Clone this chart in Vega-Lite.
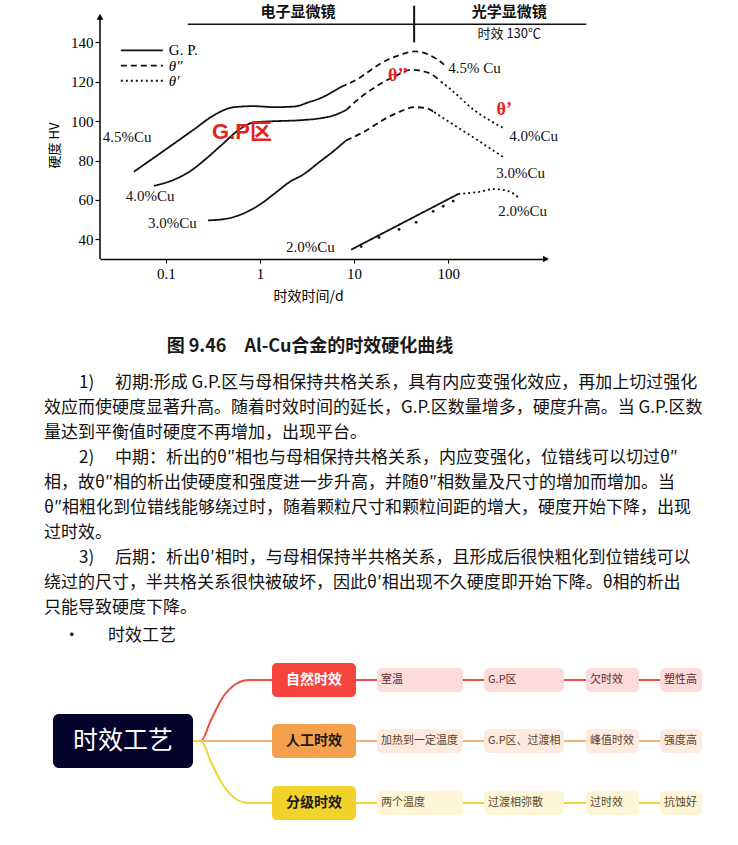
{
  "$schema": "https://vega.github.io/schema/vega-lite/v6.json",
  "background": "white",
  "padding": {"left": 43, "top": 1, "right": 0, "bottom": 0},
  "bounds": "flush",
  "spacing": 5,
  "config": {"view": {"stroke": null}, "font": "Noto Sans CJK SC", "axis": {"grid": false}},
  "vconcat": [
    {
      "width": 446,
      "height": 258,
      "title": {"text": "图 9.46\u3000Al-Cu合金的时效硬化曲线", "orient": "bottom", "anchor": "middle", "frame": "group", "offset": 35, "fontSize": 18, "fontWeight": "bold", "font": "Noto Sans CJK SC", "color": "#1a1a1a", "dx": -13},
      "layer": [
        {
          "data": {"values": [
            {"alloy": "4.5", "phase": "G.P.", "t": 0.0457, "hv": 74.3},
            {"alloy": "4.5", "phase": "G.P.", "t": 0.0745, "hv": 81.4},
            {"alloy": "4.5", "phase": "G.P.", "t": 0.122, "hv": 88.6},
            {"alloy": "4.5", "phase": "G.P.", "t": 0.199, "hv": 95.8},
            {"alloy": "4.5", "phase": "G.P.", "t": 0.324, "hv": 103.0},
            {"alloy": "4.5", "phase": "G.P.", "t": 0.529, "hv": 107.1},
            {"alloy": "4.5", "phase": "G.P.", "t": 0.863, "hv": 107.6},
            {"alloy": "4.5", "phase": "G.P.", "t": 1.41, "hv": 107.1},
            {"alloy": "4.5", "phase": "G.P.", "t": 2.3, "hv": 107.4},
            {"alloy": "4.5", "phase": "G.P.", "t": 3.3, "hv": 109.6},
            {"alloy": "4.5", "phase": "G.P.", "t": 4.46, "hv": 111.8},
            {"alloy": "4.5", "phase": "G.P.", "t": 6.13, "hv": 115.3},
            {"alloy": "4.5", "phase": "G.P.", "t": 7.27, "hv": 117.4},
            {"alloy": "4.5", "phase": "θ″", "t": 7.27, "hv": 117.4},
            {"alloy": "4.5", "phase": "θ″", "t": 11.9, "hv": 122.5},
            {"alloy": "4.5", "phase": "θ″", "t": 14.1, "hv": 125.0},
            {"alloy": "4.5", "phase": "θ″", "t": 23.0, "hv": 131.3},
            {"alloy": "4.5", "phase": "θ″", "t": 31.6, "hv": 133.8},
            {"alloy": "4.5", "phase": "θ″", "t": 43.5, "hv": 135.4},
            {"alloy": "4.5", "phase": "θ″", "t": 58.3, "hv": 134.3},
            {"alloy": "4.5", "phase": "θ″", "t": 71, "hv": 132.3},
            {"alloy": "4.5", "phase": "θ″", "t": 90.6, "hv": 128.7},
            {"alloy": "4.0", "phase": "G.P.", "t": 0.0745, "hv": 67.1},
            {"alloy": "4.0", "phase": "G.P.", "t": 0.128, "hv": 70.7},
            {"alloy": "4.0", "phase": "G.P.", "t": 0.184, "hv": 74.8},
            {"alloy": "4.0", "phase": "G.P.", "t": 0.267, "hv": 80.9},
            {"alloy": "4.0", "phase": "G.P.", "t": 0.385, "hv": 87.6},
            {"alloy": "4.0", "phase": "G.P.", "t": 0.628, "hv": 96.3},
            {"alloy": "4.0", "phase": "G.P.", "t": 0.863, "hv": 99.4},
            {"alloy": "4.0", "phase": "G.P.", "t": 1.31, "hv": 99.9},
            {"alloy": "4.0", "phase": "G.P.", "t": 2.73, "hv": 100.5},
            {"alloy": "4.0", "phase": "G.P.", "t": 4.46, "hv": 101.5},
            {"alloy": "4.0", "phase": "G.P.", "t": 6.13, "hv": 103.0},
            {"alloy": "4.0", "phase": "G.P.", "t": 8.22, "hv": 105.6},
            {"alloy": "4.0", "phase": "θ″", "t": 8.22, "hv": 105.6},
            {"alloy": "4.0", "phase": "θ″", "t": 11.9, "hv": 112.3},
            {"alloy": "4.0", "phase": "θ″", "t": 20.9, "hv": 120.0},
            {"alloy": "4.0", "phase": "θ″", "t": 29.4, "hv": 123.6},
            {"alloy": "4.0", "phase": "θ″", "t": 40.4, "hv": 126.1},
            {"alloy": "4.0", "phase": "θ″", "t": 61.2, "hv": 124.6},
            {"alloy": "4.0", "phase": "θ″", "t": 84.3, "hv": 120.0},
            {"alloy": "4.0", "phase": "θ′", "t": 84.3, "hv": 120.0},
            {"alloy": "4.0", "phase": "θ′", "t": 108, "hv": 115.9},
            {"alloy": "4.0", "phase": "θ′", "t": 189, "hv": 105.6},
            {"alloy": "4.0", "phase": "θ′", "t": 287, "hv": 99.9},
            {"alloy": "4.0", "phase": "θ′", "t": 394, "hv": 96.3},
            {"alloy": "3.0", "phase": "G.P.", "t": 0.28, "hv": 49.6},
            {"alloy": "3.0", "phase": "G.P.", "t": 0.457, "hv": 50.6},
            {"alloy": "3.0", "phase": "G.P.", "t": 0.745, "hv": 54.2},
            {"alloy": "3.0", "phase": "G.P.", "t": 1.08, "hv": 58.8},
            {"alloy": "3.0", "phase": "G.P.", "t": 1.41, "hv": 63.0},
            {"alloy": "3.0", "phase": "G.P.", "t": 2.14, "hv": 69.6},
            {"alloy": "3.0", "phase": "G.P.", "t": 2.73, "hv": 72.2},
            {"alloy": "3.0", "phase": "G.P.", "t": 4.46, "hv": 79.9},
            {"alloy": "3.0", "phase": "G.P.", "t": 6.13, "hv": 85.0},
            {"alloy": "3.0", "phase": "G.P.", "t": 8.22, "hv": 90.2},
            {"alloy": "3.0", "phase": "θ″", "t": 8.22, "hv": 90.2},
            {"alloy": "3.0", "phase": "θ″", "t": 11.9, "hv": 93.8},
            {"alloy": "3.0", "phase": "θ″", "t": 23.0, "hv": 102.0},
            {"alloy": "3.0", "phase": "θ″", "t": 31.6, "hv": 105.1},
            {"alloy": "3.0", "phase": "θ″", "t": 43.5, "hv": 107.1},
            {"alloy": "3.0", "phase": "θ″", "t": 58.3, "hv": 106.6},
            {"alloy": "3.0", "phase": "θ″", "t": 71, "hv": 104.6},
            {"alloy": "3.0", "phase": "θ′", "t": 71, "hv": 104.6},
            {"alloy": "3.0", "phase": "θ′", "t": 108, "hv": 98.9},
            {"alloy": "3.0", "phase": "θ′", "t": 208, "hv": 90.2},
            {"alloy": "3.0", "phase": "θ′", "t": 394, "hv": 81.4},
            {"alloy": "2.0", "phase": "G.P.", "t": 9.29, "hv": 34.7},
            {"alloy": "2.0", "phase": "G.P.", "t": 128, "hv": 63.0},
            {"alloy": "2.0", "phase": "θ′", "t": 128, "hv": 63.0},
            {"alloy": "2.0", "phase": "θ′", "t": 208, "hv": 64.0},
            {"alloy": "2.0", "phase": "θ′", "t": 309, "hv": 65.5},
            {"alloy": "2.0", "phase": "θ′", "t": 435, "hv": 64.5},
            {"alloy": "2.0", "phase": "θ′", "t": 569, "hv": 60.9}
          ]},
          "mark": {"type": "line", "interpolate": "monotone", "color": "#111", "strokeWidth": 1.8, "strokeCap": "butt"},
          "encoding": {
            "x": {"field": "t", "type": "quantitative",
              "scale": {"type": "log", "domain": [0.01995, 1096], "nice": false},
              "axis": {"values": [0.1, 1, 10, 100], "format": "~g", "title": "时效时间/d", "grid": false,
                "labelFont": "Liberation Serif", "labelFontSize": 15, "labelColor": "#000", "labelPadding": 3,
                "tickColor": "#000", "tickSize": 4, "domainColor": "#000", "domainWidth": 1.5,
                "titleFont": "Noto Sans CJK SC", "titleFontSize": 14, "titleFontWeight": "normal", "titleColor": "#000",
                "titlePadding": 8, "titleX": 208, "labelOverlap": false}},
            "y": {"field": "hv", "type": "quantitative",
              "scale": {"domain": [30, 161], "nice": false, "zero": false},
              "axis": {"values": [40, 60, 80, 100, 120, 140], "domain": false, "tickSize": 5, "tickColor": "#000", "tickWidth": 1.2,
                "labelFont": "Liberation Serif", "labelFontSize": 15, "labelColor": "#000", "labelPadding": 2,
                "title": "硬度 HV", "titleFont": "Noto Sans CJK SC", "titleFontSize": 13, "titleFontWeight": "normal",
                "titleColor": "#000", "titlePadding": 9, "titleY": 144}},
            "strokeDash": {"field": "phase", "type": "nominal", "scale": {"domain": ["G.P.", "θ″", "θ′"], "range": [[1, 0], [6, 4], [2, 3]]}, "legend": null},
            "detail": {"field": "alloy"}
          }
        },
        {
          "data": {"values": [
            {"phase": "G.P.", "t": 0.0332, "hv": 135.9},
            {"phase": "G.P.", "t": 0.0929, "hv": 135.9},
            {"phase": "θ″", "t": 0.0332, "hv": 128.2},
            {"phase": "θ″", "t": 0.0929, "hv": 128.2},
            {"phase": "θ′", "t": 0.0332, "hv": 120.5},
            {"phase": "θ′", "t": 0.0929, "hv": 120.5}
          ]},
          "mark": {"type": "line", "color": "#111", "strokeWidth": 1.8, "strokeCap": "butt"},
          "encoding": {
            "x": {"field": "t", "type": "quantitative"},
            "y": {"field": "hv", "type": "quantitative"},
            "strokeDash": {"field": "phase", "type": "nominal", "legend": null},
            "detail": {"field": "phase"}
          }
        },
        {
          "data": {"values": [
            {"label": "G. P.", "t": 0.1076, "hv": 135.9}
          ]},
          "mark": {"type": "text", "align": "left", "baseline": "middle", "font": "Liberation Serif", "fontSize": 15, "color": "#000"},
          "encoding": {
            "x": {"field": "t", "type": "quantitative"},
            "y": {"field": "hv", "type": "quantitative"},
            "text": {"field": "label"}
          }
        },
        {
          "data": {"values": [
            {"label": "θ″", "t": 0.1076, "hv": 128.2},
            {"label": "θ′", "t": 0.1076, "hv": 120.5}
          ]},
          "mark": {"type": "text", "align": "left", "baseline": "middle", "font": "Liberation Serif", "fontSize": 15, "fontStyle": "italic", "color": "#000"},
          "encoding": {
            "x": {"field": "t", "type": "quantitative"},
            "y": {"field": "hv", "type": "quantitative"},
            "text": {"field": "label"}
          }
        },
        {
          "data": {"values": [
            {"t": 11.9, "hv": 36.3},
            {"t": 18.4, "hv": 40.9},
            {"t": 30.1, "hv": 45.0},
            {"t": 45.7, "hv": 48.6},
            {"t": 69.3, "hv": 54.2},
            {"t": 88.5, "hv": 56.8},
            {"t": 113, "hv": 59.4}
          ]},
          "mark": {"type": "point", "filled": true, "size": 8, "color": "#111", "opacity": 1},
          "encoding": {
            "x": {"field": "t", "type": "quantitative"},
            "y": {"field": "hv", "type": "quantitative"}
          }
        },
        {
          "data": {"values": [{}]},
          "mark": {"type": "rule", "color": "#000", "strokeWidth": 1.5},
          "encoding": {"x": {"datum": 0.01995}, "y": {"datum": 30}, "y2": {"datum": 153}}
        },
        {
          "data": {"values": [{}]},
          "mark": {"type": "point", "shape": "triangle-up", "filled": true, "size": 45, "color": "#000", "opacity": 1},
          "encoding": {"x": {"datum": 0.01995}, "y": {"datum": 153}}
        },
        {
          "data": {"values": [{}]},
          "mark": {"type": "point", "shape": "triangle-right", "filled": true, "size": 45, "color": "#000", "opacity": 1},
          "encoding": {"x": {"datum": 1096}, "y": {"datum": 30}}
        },
        {
          "data": {"values": [{}]},
          "mark": {"type": "rule", "color": "#111", "strokeWidth": 1.5},
          "encoding": {"x": {"datum": 0.171}, "x2": {"datum": 2940}, "y": {"datum": 149.2}}
        },
        {
          "data": {"values": [{}]},
          "mark": {"type": "rule", "color": "#111", "strokeWidth": 2},
          "encoding": {"x": {"datum": 43.5}, "y": {"datum": 140}, "y2": {"datum": 158.6}}
        },
        {
          "data": {"values": [
            {"label": "电子显微镜", "t": 2.54, "hv": 155.4},
            {"label": "光学显微镜", "t": 446, "hv": 155.4}
          ]},
          "mark": {"type": "text", "align": "center", "baseline": "middle", "font": "Noto Sans CJK SC", "fontSize": 15, "fontWeight": "bold", "color": "#111"},
          "encoding": {
            "x": {"field": "t", "type": "quantitative"},
            "y": {"field": "hv", "type": "quantitative"},
            "text": {"field": "label"}
          }
        },
        {
          "data": {"values": [{"label": "时效 130℃", "t": 446, "hv": 144.1}]},
          "mark": {"type": "text", "align": "center", "baseline": "middle", "font": "Noto Sans CJK SC", "fontSize": 13, "color": "#111"},
          "encoding": {
            "x": {"field": "t", "type": "quantitative"},
            "y": {"field": "hv", "type": "quantitative"},
            "text": {"field": "label"}
          }
        },
        {
          "data": {"values": [
            {"label": "4.5%Cu", "t": 0.0214, "hv": 91.7},
            {"label": "4.0%Cu", "t": 0.0375, "hv": 61.9},
            {"label": "3.0%Cu", "t": 0.0644, "hv": 48.1},
            {"label": "2.0%Cu", "t": 1.89, "hv": 36.3},
            {"label": "4.5% Cu", "t": 100, "hv": 127.2},
            {"label": "4.0%Cu", "t": 446, "hv": 92.7},
            {"label": "3.0%Cu", "t": 324, "hv": 73.7},
            {"label": "2.0%Cu", "t": 340, "hv": 54.2}
          ]},
          "mark": {"type": "text", "align": "left", "baseline": "middle", "font": "Liberation Serif", "fontSize": 15, "color": "#111"},
          "encoding": {
            "x": {"field": "t", "type": "quantitative"},
            "y": {"field": "hv", "type": "quantitative"},
            "text": {"field": "label"}
          }
        },
        {
          "data": {"values": [{"label": "G.P区", "t": 0.644, "hv": 94.3}]},
          "mark": {"type": "text", "align": "center", "baseline": "middle", "font": "Liberation Sans, Noto Sans CJK SC", "fontSize": 22, "fontWeight": "bold", "color": "#e3241b"},
          "encoding": {
            "x": {"field": "t", "type": "quantitative"},
            "y": {"field": "hv", "type": "quantitative"},
            "text": {"field": "label"}
          }
        },
        {
          "data": {"values": [
            {"label": "θ’’", "t": 29.4, "hv": 123.0},
            {"label": "θ’", "t": 394, "hv": 105.6}
          ]},
          "mark": {"type": "text", "align": "center", "baseline": "middle", "font": "Liberation Serif", "fontSize": 18, "fontWeight": "bold", "color": "#e3241b"},
          "encoding": {
            "x": {"field": "t", "type": "quantitative"},
            "y": {"field": "hv", "type": "quantitative"},
            "text": {"field": "label"}
          }
        }
      ]
    },
    {
      "width": 639,
      "height": 381,
      "data": {"values": [
        {"line": 1, "indent": 1, "text": "1)\u3000 初期:形成 G.P.区与母相保持共格关系，具有内应变强化效应，再加上切过强化"},
        {"line": 2, "indent": 0, "text": "效应而使硬度显著升高。随着时效时间的延长，G.P.区数量增多，硬度升高。当 G.P.区数"},
        {"line": 3, "indent": 0, "text": "量达到平衡值时硬度不再增加，出现平台。"},
        {"line": 4, "indent": 1, "text": "2)\u3000 中期：析出的θ″相也与母相保持共格关系，内应变强化，位错线可以切过θ″"},
        {"line": 5, "indent": 0, "text": "相，故θ″相的析出使硬度和强度进一步升高，并随θ″相数量及尺寸的增加而增加。当"},
        {"line": 6, "indent": 0, "text": "θ″相粗化到位错线能够绕过时，随着颗粒尺寸和颗粒间距的增大，硬度开始下降，出现"},
        {"line": 7, "indent": 0, "text": "过时效。"},
        {"line": 8, "indent": 1, "text": "3)\u3000 后期：析出θ′相时，与母相保持半共格关系，且形成后很快粗化到位错线可以"},
        {"line": 9, "indent": 0, "text": "绕过的尺寸，半共格关系很快被破坏，因此θ′相出现不久硬度即开始下降。θ相的析出"},
        {"line": 10, "indent": 0, "text": "只能导致硬度下降。"},
        {"line": 11.1, "indent": 0.55, "text": "•"},
        {"line": 11.1, "indent": 1.83, "text": "时效工艺"}
      ]},
      "mark": {"type": "text", "align": "left", "baseline": "middle", "fontSize": 17, "font": "Noto Sans CJK SC", "color": "#111"},
      "encoding": {
        "x": {"field": "indent", "type": "quantitative", "scale": {"domain": [1.6, 19.857], "nice": false, "zero": false}, "axis": null},
        "y": {"field": "line", "type": "quantitative", "scale": {"domain": [-3.76, 11.48], "nice": false, "zero": false, "reverse": true}, "axis": null},
        "text": {"field": "text"}
      }
    },
    {
      "width": 639,
      "height": 195,
      "resolve": {"scale": {"color": "independent", "fill": "independent", "stroke": "independent"}},
      "data": {"values": [
        {"type": "root", "branch": "时效工艺", "label": "时效工艺", "x0": 8, "x1": 148, "y0": 64, "y1": 118, "cx": 78, "cy": 91},
        {"type": "branch", "branch": "自然时效", "label": "自然时效", "x0": 227, "x1": 311, "y0": 13, "y1": 47, "cx": 269, "cy": 30},
        {"type": "branch", "branch": "人工时效", "label": "人工时效", "x0": 227, "x1": 311, "y0": 74, "y1": 108, "cx": 269, "cy": 91},
        {"type": "branch", "branch": "分级时效", "label": "分级时效", "x0": 227, "x1": 311, "y0": 136, "y1": 170, "cx": 269, "cy": 153},
        {"type": "leaf", "branch": "自然时效", "label": "室温", "x0": 332, "x1": 418, "y0": 18, "y1": 42, "cx": 375, "cy": 30},
        {"type": "leaf", "branch": "自然时效", "label": "G.P区", "x0": 439, "x1": 519, "y0": 18, "y1": 42, "cx": 479, "cy": 30},
        {"type": "leaf", "branch": "自然时效", "label": "欠时效", "x0": 541, "x1": 594, "y0": 18, "y1": 42, "cx": 567, "cy": 30},
        {"type": "leaf", "branch": "自然时效", "label": "塑性高", "x0": 615, "x1": 657, "y0": 18, "y1": 42, "cx": 636, "cy": 30},
        {"type": "leaf", "branch": "人工时效", "label": "加热到一定温度", "x0": 332, "x1": 418, "y0": 79, "y1": 103, "cx": 375, "cy": 91},
        {"type": "leaf", "branch": "人工时效", "label": "G.P区、过渡相", "x0": 439, "x1": 519, "y0": 79, "y1": 103, "cx": 479, "cy": 91},
        {"type": "leaf", "branch": "人工时效", "label": "峰值时效", "x0": 541, "x1": 594, "y0": 79, "y1": 103, "cx": 567, "cy": 91},
        {"type": "leaf", "branch": "人工时效", "label": "强度高", "x0": 615, "x1": 657, "y0": 79, "y1": 103, "cx": 636, "cy": 91},
        {"type": "leaf", "branch": "分级时效", "label": "两个温度", "x0": 332, "x1": 418, "y0": 141, "y1": 165, "cx": 375, "cy": 153},
        {"type": "leaf", "branch": "分级时效", "label": "过渡相弥散", "x0": 439, "x1": 519, "y0": 141, "y1": 165, "cx": 479, "cy": 153},
        {"type": "leaf", "branch": "分级时效", "label": "过时效", "x0": 541, "x1": 594, "y0": 141, "y1": 165, "cx": 567, "cy": 153},
        {"type": "leaf", "branch": "分级时效", "label": "抗蚀好", "x0": 615, "x1": 657, "y0": 141, "y1": 165, "cx": 636, "cy": 153}
      ]},
      "layer": [
        {
          "data": {"values": [
            {"branch": "自然时效", "px": 148, "py": 91},
            {"branch": "自然时效", "px": 156, "py": 91},
            {"branch": "自然时效", "px": 166, "py": 70},
            {"branch": "自然时效", "px": 178, "py": 47},
            {"branch": "自然时效", "px": 191, "py": 34},
            {"branch": "自然时效", "px": 204, "py": 30},
            {"branch": "自然时效", "px": 227, "py": 30},
            {"branch": "自然时效", "px": 615, "py": 30},
            {"branch": "人工时效", "px": 148, "py": 91},
            {"branch": "人工时效", "px": 615, "py": 91},
            {"branch": "分级时效", "px": 148, "py": 91},
            {"branch": "分级时效", "px": 156, "py": 91},
            {"branch": "分级时效", "px": 166, "py": 112},
            {"branch": "分级时效", "px": 178, "py": 135},
            {"branch": "分级时效", "px": 191, "py": 149},
            {"branch": "分级时效", "px": 204, "py": 153},
            {"branch": "分级时效", "px": 227, "py": 153},
            {"branch": "分级时效", "px": 615, "py": 153}
          ]},
          "mark": {"type": "line", "interpolate": "monotone", "strokeWidth": 2},
          "encoding": {
            "x": {"field": "px", "type": "quantitative", "scale": {"domain": [55, 694], "nice": false, "zero": false}, "axis": null},
            "y": {"field": "py", "type": "quantitative", "scale": {"domain": [0, 195], "nice": false, "zero": false, "reverse": true}, "axis": null},
            "stroke": {"field": "branch", "type": "nominal", "scale": {"domain": ["自然时效", "人工时效", "分级时效"], "range": ["#ee4b43", "#f3b07a", "#f1d133"]}, "legend": null}
          }
        },
        {
          "transform": [{"filter": "datum.type === 'root'"}],
          "mark": {"type": "rect", "cornerRadius": 6, "color": "#03032b"},
          "encoding": {
            "x": {"field": "x0", "type": "quantitative", "scale": {"domain": [55, 694], "nice": false, "zero": false}, "axis": null},
            "x2": {"field": "x1"},
            "y": {"field": "y0", "type": "quantitative", "scale": {"domain": [0, 195], "nice": false, "zero": false, "reverse": true}, "axis": null},
            "y2": {"field": "y1"}
          }
        },
        {
          "transform": [{"filter": "datum.type === 'branch'"}],
          "mark": {"type": "rect", "cornerRadius": 5},
          "encoding": {
            "x": {"field": "x0", "type": "quantitative", "axis": null},
            "x2": {"field": "x1"},
            "y": {"field": "y0", "type": "quantitative", "axis": null},
            "y2": {"field": "y1"},
            "fill": {"field": "branch", "type": "nominal", "scale": {"domain": ["自然时效", "人工时效", "分级时效"], "range": ["#f5443b", "#f4a04c", "#f0d22a"]}, "legend": null}
          }
        },
        {
          "transform": [{"filter": "datum.type === 'leaf'"}],
          "mark": {"type": "rect", "cornerRadius": 5},
          "encoding": {
            "x": {"field": "x0", "type": "quantitative", "axis": null},
            "x2": {"field": "x1"},
            "y": {"field": "y0", "type": "quantitative", "axis": null},
            "y2": {"field": "y1"},
            "fill": {"field": "branch", "type": "nominal", "scale": {"domain": ["自然时效", "人工时效", "分级时效"], "range": ["#fddbdb", "#fdebdf", "#fdf5d6"]}, "legend": null}
          }
        },
        {
          "transform": [{"filter": "datum.type === 'root'"}],
          "mark": {"type": "text", "align": "center", "baseline": "middle", "fontSize": 25, "font": "Noto Sans CJK SC", "color": "#ffffff"},
          "encoding": {
            "x": {"field": "cx", "type": "quantitative", "axis": null},
            "y": {"field": "cy", "type": "quantitative", "axis": null},
            "text": {"field": "label"}
          }
        },
        {
          "transform": [{"filter": "datum.type === 'branch'"}],
          "mark": {"type": "text", "align": "center", "baseline": "middle", "fontSize": 14, "fontWeight": "bold", "font": "Noto Sans CJK SC"},
          "encoding": {
            "x": {"field": "cx", "type": "quantitative", "axis": null},
            "y": {"field": "cy", "type": "quantitative", "axis": null},
            "text": {"field": "label"},
            "color": {"field": "branch", "type": "nominal", "scale": {"domain": ["自然时效", "人工时效", "分级时效"], "range": ["#ffffff", "#1a1a1a", "#1a1a1a"]}, "legend": null}
          }
        },
        {
          "transform": [{"filter": "datum.type === 'leaf'"}],
          "mark": {"type": "text", "align": "left", "baseline": "middle", "fontSize": 11, "dx": 4, "font": "Noto Sans CJK SC"},
          "encoding": {
            "x": {"field": "x0", "type": "quantitative", "axis": null},
            "y": {"field": "cy", "type": "quantitative", "axis": null},
            "text": {"field": "label"},
            "color": {"field": "branch", "type": "nominal", "scale": {"domain": ["自然时效", "人工时效", "分级时效"], "range": ["#5b2b2b", "#5b3f2c", "#574a2c"]}, "legend": null}
          }
        }
      ]
    }
  ]
}
